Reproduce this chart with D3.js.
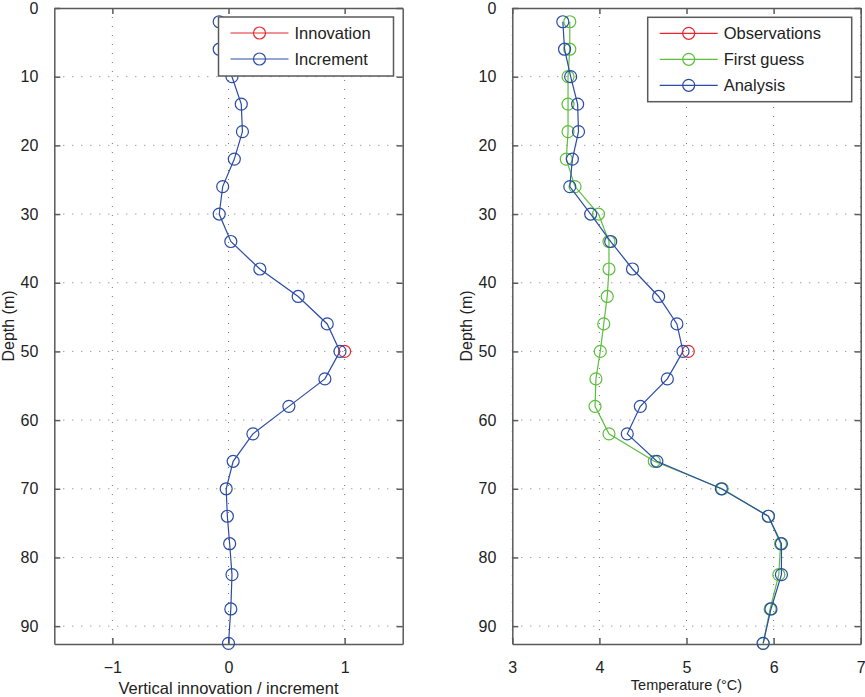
<!DOCTYPE html>
<html lang="en">
<head>
<meta charset="UTF-8">
<title>Innovation / increment profiles</title>
<script src="https://d3js.org/d3.v7.min.js"></script>
<style>
    body { margin: 0; background: #fff; }
    svg { display: block; font-family: "Liberation Sans", Arial, sans-serif; }
</style>
</head>
<body>
<svg width="865" height="697"></svg>
<script>
// depth levels (m)
const depths = [2, 6, 10, 14, 18, 22, 26, 30, 34, 38, 42, 46, 50, 54, 58, 62, 66, 70, 74, 78, 82.5, 87.5, 92.5];

// left panel
const increment = [-0.08, -0.08, 0.03, 0.11, 0.12, 0.05, -0.05, -0.08, 0.02, 0.27, 0.6, 0.85, 0.96,
    0.83, 0.52, 0.21, 0.04, -0.02, -0.01, 0.01, 0.03, 0.02, 0.0];
const innovationDepths = [50];
const innovation = [1.0];

// right panel
const firstGuess = [3.66, 3.66, 3.64, 3.64, 3.64, 3.62, 3.72, 3.99, 4.11, 4.11, 4.09, 4.05, 4.01,
    3.96, 3.95, 4.11, 4.63, 5.41, 5.94, 6.08, 6.06, 5.96, 5.88];
const analysis = [3.58, 3.6, 3.67, 3.75, 3.76, 3.69, 3.66, 3.9, 4.13, 4.38, 4.68, 4.89, 4.96,
    4.78, 4.47, 4.32, 4.66, 5.4, 5.94, 6.09, 6.09, 5.97, 5.88];
const obsDepths = [50];
const observations = [5.02];

const depthTicks = [0, 10, 20, 30, 40, 50, 60, 70, 80, 90];
const leftTicks = [-1, 0, 1];
const rightTicks = [3, 4, 5, 6, 7];

const RED = "#e8262c", BLUE = "#2b4ca6", GREEN = "#5cbf3e";
const FRAME = "#5a5a5a", TEXT = "#222";

const svg = d3.select("svg");
const plotTop = 8, plotBottom = 644;

const y = d3.scaleLinear().domain([0, 92.6]).range([plotTop, plotBottom]);

function panel(opts) {
    const x = d3.scaleLinear().domain(opts.xDomain).range([opts.left, opts.right]);
    const g = svg.append("g");

    // dotted grid
    g.selectAll(".gx").data(opts.xTicks).enter().append("line")
        .attr("x1", d => x(d)).attr("x2", d => x(d))
        .attr("y1", plotTop).attr("y2", plotBottom)
        .attr("stroke", "#777").attr("stroke-width", 1)
        .attr("stroke-dasharray", "1,8");
    g.selectAll(".gy").data(depthTicks.filter(d => d > 0)).enter().append("line")
        .attr("x1", opts.left).attr("x2", opts.right)
        .attr("y1", d => y(d)).attr("y2", d => y(d))
        .attr("stroke", "#777").attr("stroke-width", 1)
        .attr("stroke-dasharray", "1,8");

    // axes with inward ticks
    const axes = [
        [d3.axisLeft(y).tickValues(depthTicks).tickSizeInner(-6).tickSizeOuter(0).tickPadding(16), `translate(${opts.left},0)`, true],
        [d3.axisRight(y).tickValues(depthTicks).tickSizeInner(-6).tickSizeOuter(0), `translate(${opts.right},0)`, false],
        [d3.axisBottom(x).tickValues(opts.xTicks).tickSizeInner(-6).tickSizeOuter(0).tickPadding(18)
            .tickFormat(d => d < 0 ? "\u2212" + Math.abs(d) : d), `translate(0,${plotBottom})`, true],
        [d3.axisTop(x).tickValues(opts.xTicks).tickSizeInner(-6).tickSizeOuter(0), `translate(0,${plotTop})`, false]
    ];
    axes.forEach(([ax, tr, labels]) => {
        const a = g.append("g").attr("transform", tr).call(ax);
        a.select(".domain").attr("stroke", FRAME).attr("stroke-width", 1.5);
        a.selectAll(".tick line").attr("stroke", FRAME).attr("stroke-width", 1.5);
        a.selectAll(".tick text").attr("fill", TEXT).style("font-size", "16px")
            .style("font-family", "Liberation Sans, Arial, sans-serif");
        if (!labels) a.selectAll(".tick text").remove();
    });

    // axis titles
    g.append("text")
        .attr("transform", `translate(${opts.ylabelX},${(plotTop + plotBottom) / 2}) rotate(-90)`)
        .attr("text-anchor", "middle").attr("fill", TEXT).style("font-size", "16px")
        .text("Depth (m)");
    g.append("text")
        .attr("x", (opts.left + opts.right) / 2).attr("y", opts.xlabelY)
        .attr("text-anchor", "middle").attr("fill", TEXT).style("font-size", opts.xlabelSize)
        .text(opts.xlabel);

    // series
    const line = d3.line().x(d => x(d[0])).y(d => y(d[1]));
    opts.series.forEach(s => {
        const pts = s.values.map((v, i) => [v, s.depths[i]]);
        g.append("path").datum(pts).attr("d", line)
            .attr("fill", "none").attr("stroke", s.color).attr("stroke-width", 1.2);
        g.selectAll(null).data(pts).enter().append("circle")
            .attr("cx", d => x(d[0])).attr("cy", d => y(d[1])).attr("r", 6)
            .attr("fill", "none").attr("stroke", s.color).attr("stroke-width", 1.2);
    });

    // legend
    const lg = g.append("g");
    const L = opts.legend;
    lg.append("rect").attr("x", L.x).attr("y", L.y).attr("width", L.w).attr("height", L.h)
        .attr("fill", "#fff").attr("stroke", FRAME).attr("stroke-width", 1.5);
    opts.series.forEach((s, i) => {
        const cy = L.y + 16 + i * 26;
        lg.append("line").attr("x1", L.x + 12).attr("x2", L.x + 70)
            .attr("y1", cy).attr("y2", cy).attr("stroke", s.color).attr("stroke-width", 1.2);
        lg.append("circle").attr("cx", L.x + 41).attr("cy", cy).attr("r", 6)
            .attr("fill", "none").attr("stroke", s.color).attr("stroke-width", 1.2);
        lg.append("text").attr("x", L.x + 76).attr("y", cy).attr("dy", "0.35em")
            .attr("fill", TEXT).style("font-size", "16.5px").text(s.name);
    });
}

panel({
    left: 54.3, right: 402.7, xDomain: [-1.5, 1.5], xTicks: leftTicks,
    xlabel: "Vertical innovation / increment", xlabelY: 693.5, xlabelSize: "16.5px", ylabelX: 14,
    series: [
        {name: "Innovation", values: innovation, depths: innovationDepths, color: RED},
        {name: "Increment", values: increment, depths: depths, color: BLUE}
    ],
    legend: {x: 218.5, y: 17, w: 175, h: 59}
});

panel({
    left: 512.3, right: 860.7, xDomain: [3, 7], xTicks: rightTicks,
    xlabel: "Temperature (\u00b0C)", xlabelY: 690, xlabelSize: "14.5px", ylabelX: 472,
    series: [
        {name: "Observations", values: observations, depths: obsDepths, color: RED},
        {name: "First guess", values: firstGuess, depths: depths, color: GREEN},
        {name: "Analysis", values: analysis, depths: depths, color: BLUE}
    ],
    legend: {x: 647.7, y: 17.3, w: 204, h: 84.4}
});
</script>
</body>
</html>
